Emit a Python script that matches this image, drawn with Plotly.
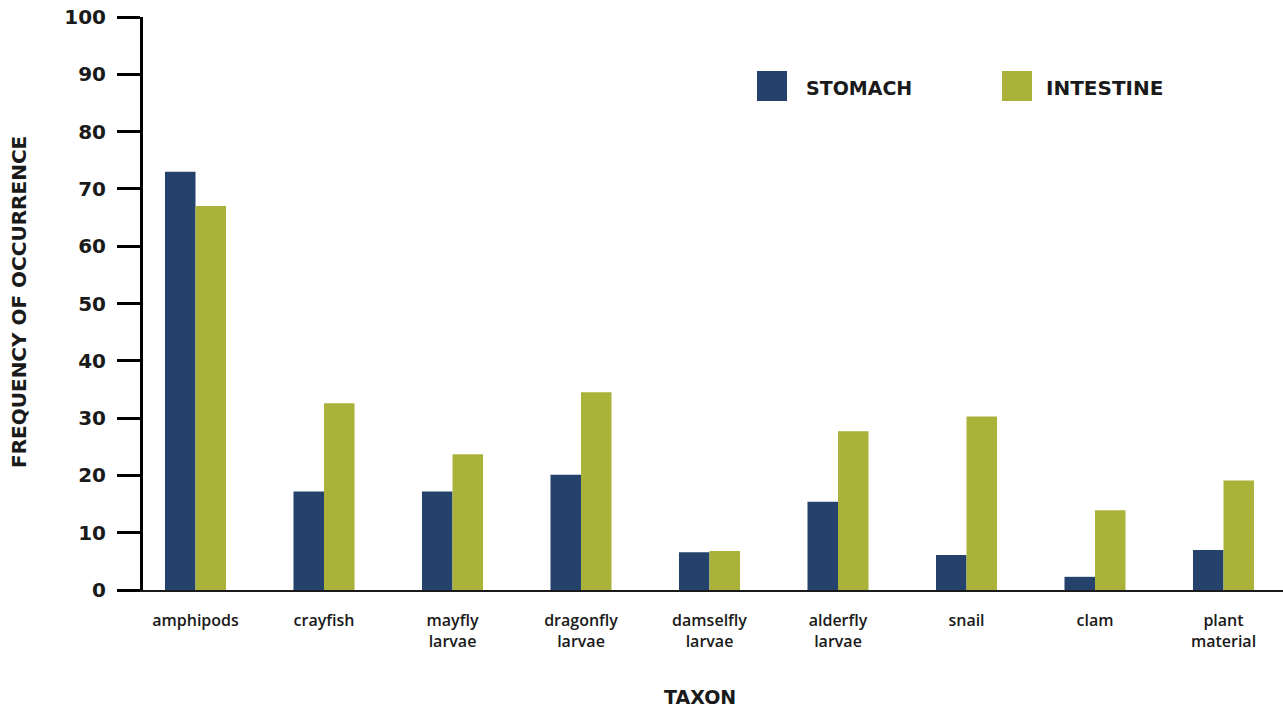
import plotly.graph_objects as go

categories = ["amphipods", "crayfish", "mayfly<br>larvae", "dragonfly<br>larvae",
              "damselfly<br>larvae", "alderfly<br>larvae", "snail", "clam",
              "plant<br>material"]
stomach = [73.0, 17.2, 17.2, 20.1, 6.6, 15.4, 6.1, 2.3, 7.0]
intestine = [67.0, 32.6, 23.7, 34.5, 6.8, 27.7, 30.3, 13.9, 19.1]
y_ticks = [0, 10, 20, 30, 40, 50, 60, 70, 80, 90, 100]

NAVY = "#24426B"
OLIVE = "#AAB23A"
FONT = "Open Sans"
BOLD = "DejaVu Sans"
TXT = "#1a1a1a"

fig = go.Figure()
fig.add_trace(go.Bar(x=categories, y=stomach, name="STOMACH", marker_color=NAVY,
                     marker_line_width=0))
fig.add_trace(go.Bar(x=categories, y=intestine, name="INTESTINE", marker_color=OLIVE,
                     marker_line_width=0))

fig.update_layout(
    width=1283, height=708,
    margin=dict(l=143, r=0, t=17, b=118),
    paper_bgcolor="white", plot_bgcolor="white",
    barmode="group", bargap=0.525, bargroupgap=0,
    showlegend=False,
    font=dict(family=FONT, color=TXT),
)
fig.update_xaxes(
    range=[-0.4086, 8.463],
    showline=True, linecolor=TXT, linewidth=2,
    ticks="", showgrid=False,
    tickfont=dict(family=FONT, size=16, weight=600, color=TXT),
    ticklabelstandoff=15,
)
fig.update_yaxes(
    range=[0, 100], tickvals=y_ticks,
    showline=True, linecolor="black", linewidth=3,
    ticks="outside", ticklen=23, tickwidth=3, tickcolor="black",
    showgrid=False, zeroline=False,
    tickfont=dict(family=BOLD, size=20, weight="bold", color=TXT),
    ticklabelstandoff=7,
)

def px_x(p):
    return (p - 143) / 1140

def px_y(p):
    return (590 - p) / 573

# y-axis title
fig.add_annotation(text="FREQUENCY OF OCCURRENCE", xref="paper", yref="paper",
                   x=px_x(19), y=px_y(302), xanchor="center", yanchor="middle",
                   textangle=-90, showarrow=False,
                   font=dict(family=BOLD, size=20, weight="bold", color=TXT))
# x-axis title
fig.add_annotation(text="TAXON", xref="paper", yref="paper",
                   x=px_x(700), y=px_y(697), xanchor="center", yanchor="middle",
                   showarrow=False,
                   font=dict(family=BOLD, size=19, weight="bold", color=TXT))

# legend drawn manually
for name, col, x0, tx, fs in [("STOMACH", NAVY, 757, 804, 19),
                              ("INTESTINE", OLIVE, 1002, 1044, 20)]:
    fig.add_shape(type="rect", xref="paper", yref="paper",
                  x0=px_x(x0), x1=px_x(x0 + 30), y0=px_y(101), y1=px_y(71),
                  fillcolor=col, line_width=0)
    fig.add_annotation(text=name, xref="paper", yref="paper", x=px_x(tx), y=px_y(88),
                       xanchor="left", yanchor="middle", showarrow=False,
                       font=dict(family=BOLD, size=fs, weight="bold", color=TXT))

fig.write_html("out.html", config={"displayModeBar": False},
               post_script="document.body.style.margin='0';document.body.style.overflow='hidden';")
